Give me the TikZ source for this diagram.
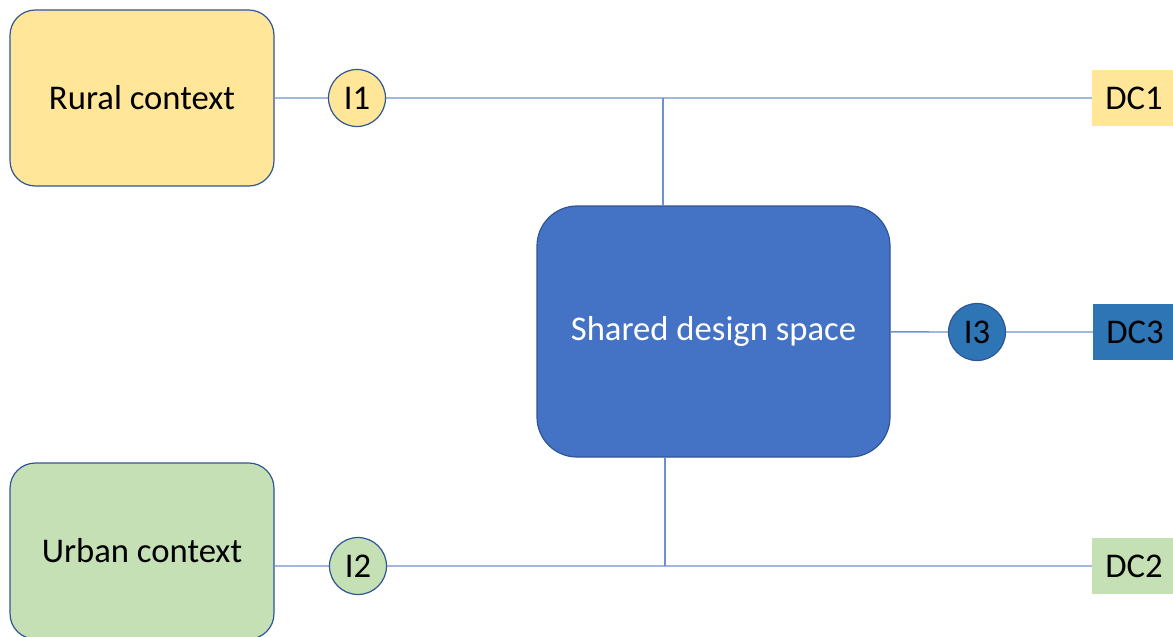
\documentclass[tikz,border=0pt]{standalone}
\usepackage{fontspec}
\setmainfont{Carlito}
\usepackage{tikz}
\usetikzlibrary{positioning}
\usepackage{xcolor}

\definecolor{ruralfill}{HTML}{FFE699}
\definecolor{urbanfill}{HTML}{C5E0B4}
\definecolor{sharedfill}{HTML}{4472C4}
\definecolor{dcblue}{HTML}{2E75B6}
\definecolor{edgeblue}{HTML}{2F5597}
\definecolor{linkblue}{HTML}{6F8FD0}

\begin{document}
\begin{tikzpicture}[
        x=0.75pt, y=-0.75pt,
        font=\fontsize{26}{31}\selectfont,
        context/.style={rectangle, rounded corners=19pt, draw=edgeblue, line width=0.9pt,
                        minimum width=198pt, minimum height=132pt},
        iface/.style={circle, draw=edgeblue, line width=0.9pt, inner sep=0pt,
                      minimum size=42.75pt},
        dcbox/.style={rectangle, inner sep=0pt, minimum width=63pt, minimum height=42pt},
        link/.style={draw=linkblue, line width=1pt}
    ]
        \useasboundingbox (0,0) rectangle (1173,636);

        % Contexts
        \node[context, fill=ruralfill] (R) at (142,98) {Rural context};
        \node[context, fill=urbanfill] (U) at (142,551) {Urban context};
        \node[context, fill=sharedfill, text=white, rounded corners=30pt,
              minimum width=264.75pt, minimum height=188.25pt] (S) at (713.5,331.5) {Shared design space};

        % Interfaces
        \node[iface, fill=ruralfill] (I1) at (357,98) {I1};
        \node[iface, fill=urbanfill] (I2) at (358,566) {I2};
        \node[iface, fill=dcblue] (I3) at (977,332) {I3};

        % Design contributions
        \node[dcbox, fill=ruralfill] (D1) at (1134,98) {DC1};
        \node[dcbox, fill=urbanfill] (D2) at (1134,566) {DC2};
        \node[dcbox, fill=dcblue] (D3) at (1135,332) {DC3};

        % Junctions
        \coordinate (J1) at (663,98);
        \coordinate (J2) at (665,566);

        % Links
        \path[link]
            (R.east |- I1) -- (I1)
            (I1) -- (D1)
            (U.east |- I2) -- (I2)
            (I2) -- (D2)
            (S) -- (I3)
            (I3) -- (D3);
        \path[link]
            (S.north -| J1) -- (J1)
            (S.south -| J2) -- (J2);

    \end{tikzpicture}
\end{document}
